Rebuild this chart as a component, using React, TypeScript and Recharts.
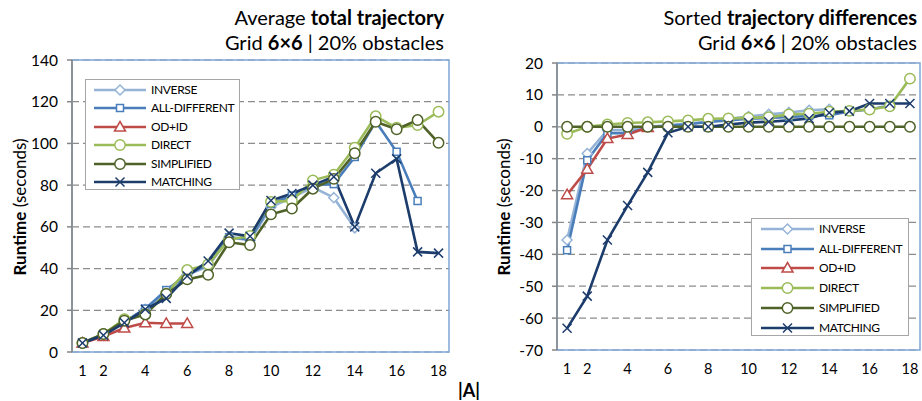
import React from 'react';
import { LineChart, Line, XAxis, YAxis, CartesianGrid, ReferenceArea } from 'recharts';

const CATEGORIES = [1, 2, 3, 4, 5, 6, 7, 8, 9, 10, 11, 12, 13, 14, 15, 16, 17, 18];
const X_LABELS = [1, 2, 4, 6, 8, 10, 12, 14, 16, 18];
const BOUNDS = [0.5, 1.5, 2.5, 3.5, 4.5, 5.5, 6.5, 7.5, 8.5, 9.5, 10.5, 11.5, 12.5, 13.5, 14.5, 15.5, 16.5, 17.5, 18.5];

// Left chart: average total trajectory (seconds)
const L_INVERSE = [4.3, 8.5, 14.5, 20.5, 29, 37, 41, 55, 53.5, 69.5, 74, 79, 74, 59.5, null, null, null, null];
const L_ALLDIFF = [4.3, 8.5, 14.5, 20.8, 29.7, 37, 42, 55, 54, 71, 75, 80, 80.5, 93.5, 110.5, 96, 72.4, null];
const L_ODID = [4.3, 7.4, 11.5, 14, 13.7, 13.7, null, null, null, null, null, null, null, null, null, null, null, null];
const L_DIRECT = [4.3, 8.6, 15.7, 18.2, 28, 39.3, 42, 54, 55.6, 72, 72.5, 82.3, 85, 98, 113, 107.5, 108.8, 115.2];
const L_SIMPLIFIED = [4.3, 8.6, 15, 18, 27.8, 34.8, 37, 52.6, 51.3, 66, 68.8, 78.3, 83, 95.3, 110.4, 106.8, 111.2, 100.3];
const L_MATCHING = [4.3, 8, 14, 20.5, 25.7, 36.4, 43.6, 57, 55.5, 72.6, 76, 80, 84, 60, 85.7, 92.6, 48, 47.4];
const L_Y_TICKS = [0, 20, 40, 60, 80, 100, 120, 140];

// Right chart: sorted trajectory differences (seconds)
const R_INVERSE = [-35.5, -8.4, -1, -1, 0, 0.5, 1.0, 1.6, 2.5, 3.2, 3.9, 4.5, 5.2, 5.5, null, null, null, null];
const R_ALLDIFF = [-38.7, -10.5, -2, -2, -0.3, 0.3, 0.8, 1.5, 2, 2.5, 2.8, 3.1, 3.4, 3.6, 4.8, 5.4, 6.7, null];
const R_ODID = [-21.3, -13.3, -3.7, -2.4, -0.2, null, null, null, null, null, null, null, null, null, null, null, null, null];
const R_DIRECT = [-2.2, 0, 0.7, 1.2, 1.4, 1.7, 2.0, 2.5, 2.6, 2.8, 3.0, 3.9, 4.1, 4.7, 5.0, 5.4, 6.4, 15.1];
const R_SIMPLIFIED = [0, 0, 0, 0, 0, 0, 0, 0, 0, 0, 0, 0, 0, 0, 0, 0, 0, 0];
const R_MATCHING = [-63.2, -53.1, -35.5, -24.7, -14.3, -1.9, 0, 0, 0.7, 1.3, 1.6, 2.0, 2.6, 4.4, 4.9, 7.3, 7.3, 7.3];
const R_Y_TICKS = [-70, -60, -50, -40, -30, -20, -10, 0, 10, 20];

const SERIES = [
  { key: 'inverse', name: 'INVERSE', color: '#95b3d7', shape: 'diamond' },
  { key: 'alldiff', name: 'ALL-DIFFERENT', color: '#4a7ebb', shape: 'square' },
  { key: 'odid', name: 'OD+ID', color: '#be4b48', shape: 'triangle' },
  { key: 'direct', name: 'DIRECT', color: '#9bbb59', shape: 'circle' },
  { key: 'simplified', name: 'SIMPLIFIED', color: '#4f6228', shape: 'circle' },
  { key: 'matching', name: 'MATCHING', color: '#1c3c6c', shape: 'x' },
];

const buildData = (cols: Record<string, (number | null)[]>) =>
  CATEGORIES.map((c, i) => {
    const row: Record<string, number | null> = { x: c };
    Object.keys(cols).forEach((k) => {
      row[k] = cols[k][i];
    });
    return row;
  });

const LEFT_DATA = buildData({
  inverse: L_INVERSE, alldiff: L_ALLDIFF, odid: L_ODID, direct: L_DIRECT, simplified: L_SIMPLIFIED, matching: L_MATCHING,
});
const RIGHT_DATA = buildData({
  inverse: R_INVERSE, alldiff: R_ALLDIFF, odid: R_ODID, direct: R_DIRECT, simplified: R_SIMPLIFIED, matching: R_MATCHING,
});

const FONT = 'Lato, "Noto Sans", sans-serif';
const AXIS_COLOR = '#868686';

function Marker({ shape, cx, cy, color }: { shape: string; cx: number; cy: number; color: string }) {
  const sw = 1.5;
  switch (shape) {
    case 'diamond':
      return <polygon points={`${cx},${cy - 5} ${cx + 5},${cy} ${cx},${cy + 5} ${cx - 5},${cy}`} fill="#fff" stroke={color} strokeWidth={sw} />;
    case 'square':
      return <rect x={cx - 3.5} y={cy - 3.5} width={7} height={7} fill="#fff" stroke={color} strokeWidth={sw} />;
    case 'triangle':
      return <polygon points={`${cx},${cy - 5.5} ${cx + 5.5},${cy + 4} ${cx - 5.5},${cy + 4}`} fill="#fff" stroke={color} strokeWidth={sw} />;
    case 'circle':
      return <circle cx={cx} cy={cy} r={5.2} fill="#fff" stroke={color} strokeWidth={sw} />;
    case 'x':
      return (
        <g stroke={color} strokeWidth={sw}>
          <line x1={cx - 4.5} y1={cy - 4.5} x2={cx + 4.5} y2={cy + 4.5} />
          <line x1={cx - 4.5} y1={cy + 4.5} x2={cx + 4.5} y2={cy - 4.5} />
        </g>
      );
    default:
      return null;
  }
}

const makeDot = (shape: string, color: string) => (p: any) => {
  if (p.cx == null || p.cy == null || p.value == null || Number.isNaN(p.cy)) return <g key={p.index} />;
  return (
    <g key={p.index}>
      <Marker shape={shape} cx={p.cx} cy={p.cy} color={color} />
    </g>
  );
};

function TrajChart({ data, width, height, margin, yDomain, yTicks }: any) {
  return (
    <LineChart width={width} height={height} data={data} margin={margin}>
      <CartesianGrid vertical={false} stroke="#8c8c8c" strokeDasharray="7 4" strokeWidth={1.2} />
      <ReferenceArea x1={0.5} x2={18.5} y1={yDomain[0]} y2={yDomain[1]} fill="none" stroke="#7ea6d6" strokeWidth={1.5} ifOverflow="visible" />
      <XAxis
        xAxisId="marks"
        type="number"
        dataKey="x"
        domain={[0.5, 18.5]}
        ticks={BOUNDS}
        interval={0}
        height={0}
        tickSize={5}
        tickFormatter={() => ''}
        axisLine={{ stroke: AXIS_COLOR, strokeWidth: 1.5 }}
        tickLine={{ stroke: AXIS_COLOR, strokeWidth: 1.5 }}
      />
      <XAxis
        type="number"
        dataKey="x"
        domain={[0.5, 18.5]}
        ticks={X_LABELS}
        interval={0}
        height={30}
        tickLine={false}
        axisLine={false}
        tickSize={0}
        tickMargin={14}
        tick={{ fill: '#000', fontSize: 14.5, fontFamily: FONT }}
      />
      <YAxis
        domain={yDomain}
        ticks={yTicks}
        interval={0}
        width={50}
        tickSize={5}
        tickMargin={9}
        axisLine={{ stroke: AXIS_COLOR, strokeWidth: 1.5 }}
        tickLine={{ stroke: AXIS_COLOR, strokeWidth: 1.5 }}
        tick={{ fill: '#000', fontSize: 15.5, fontFamily: FONT }}
      />
      {SERIES.map((s) => (
        <Line
          key={s.key}
          type="linear"
          dataKey={s.key}
          name={s.name}
          stroke={s.color}
          strokeWidth={2.6}
          dot={makeDot(s.shape, s.color)}
          activeDot={false}
          isAnimationActive={false}
          connectNulls={false}
        />
      ))}
    </LineChart>
  );
}

function LegendBox({ left, top, width, height, first, step, lineX, lineLen, textX }: any) {
  return (
    <div
      style={{
        position: 'absolute', left, top, width, height, boxSizing: 'border-box',
        border: '1.5px solid #a6a6a6', background: '#fff',
      }}
    >
      {SERIES.map((s, i) => (
        <div key={s.key} style={{ position: 'absolute', left: 0, top: first + i * step - 9, height: 18, width: '100%' }}>
          <svg width={lineLen + 10} height={18} style={{ position: 'absolute', left: lineX - 5, top: 0 }}>
            <line x1={5} y1={9} x2={5 + lineLen} y2={9} stroke={s.color} strokeWidth={2.6} />
            <Marker shape={s.shape} cx={5 + lineLen / 2} cy={9} color={s.color} />
          </svg>
          <span
            style={{
              position: 'absolute', left: textX, top: 0, lineHeight: '18px', fontSize: 12,
              letterSpacing: '-0.35px', fontFamily: FONT, color: '#000', whiteSpace: 'nowrap',
            }}
          >
            {s.name}
          </span>
        </div>
      ))}
    </div>
  );
}

function YLabel({ cx, cy }: { cx: number; cy: number }) {
  return (
    <div
      style={{
        position: 'absolute', left: cx, top: cy, transform: 'translate(-50%, -50%) rotate(-90deg)',
        whiteSpace: 'nowrap', fontSize: 17, fontFamily: FONT, color: '#000',
      }}
    >
      <b>Runtime</b> (seconds)
    </div>
  );
}

function Title({ right, line1a, line1b }: { right: number; line1a: string; line1b: string }) {
  const st: React.CSSProperties = {
    position: 'absolute', right, fontSize: 20, lineHeight: '24px', fontFamily: FONT,
    color: '#000', whiteSpace: 'nowrap', textAlign: 'right',
  };
  return (
    <>
      <div style={{ ...st, top: 5 }}>
        {line1a}<b>{line1b}</b>
      </div>
      <div style={{ ...st, top: 30 }}>
        Grid <b>6×6</b> | 20% obstacles
      </div>
    </>
  );
}

export default function App() {
  return (
    <div style={{ position: 'absolute', left: 0, top: 0, width: 922, height: 401, background: '#fff', overflow: 'hidden', fontFamily: FONT }}>
      <div style={{ position: 'absolute', left: 0, top: 0 }}>
        <TrajChart
          data={LEFT_DATA}
          width={460}
          height={401}
          margin={{ top: 60, right: 11, bottom: 19, left: 22 }}
          yDomain={[0, 140]}
          yTicks={L_Y_TICKS}
        />
      </div>
      <div style={{ position: 'absolute', left: 460, top: 0 }}>
        <TrajChart
          data={RIGHT_DATA}
          width={462}
          height={401}
          margin={{ top: 63, right: 2, bottom: 21, left: 47 }}
          yDomain={[-70, 20]}
          yTicks={R_Y_TICKS}
        />
      </div>
      <Title right={922 - 444} line1a="Average " line1b="total trajectory" />
      <Title right={5} line1a="Sorted " line1b="trajectory differences" />
      <YLabel cx={19} cy={207} />
      <YLabel cx={503} cy={207} />
      <div style={{ position: 'absolute', left: 469, top: 390, transform: 'translate(-50%, -50%)', fontSize: 18, fontWeight: 'bold', fontFamily: FONT }}>
        |A|
      </div>
      <LegendBox left={85} top={79} width={155} height={111} first={10} step={18.4} lineX={8} lineLen={52} textX={65} />
      <LegendBox left={751} top={218} width={158} height={118} first={9.7} step={19.8} lineX={9} lineLen={53} textX={67} />
    </div>
  );
}
